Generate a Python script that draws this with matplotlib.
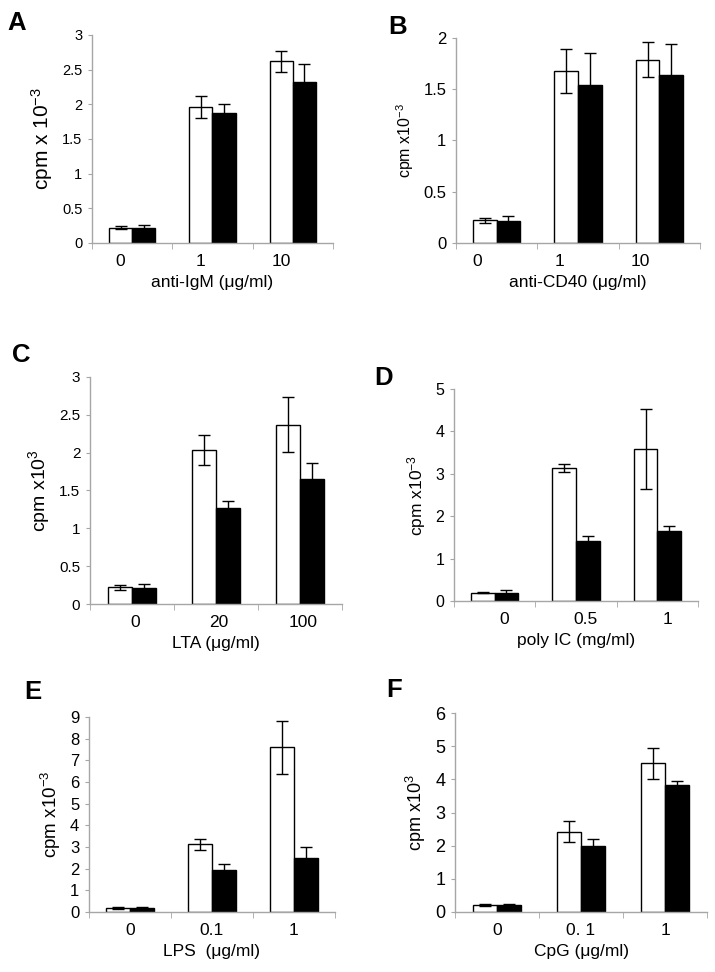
import matplotlib
matplotlib.use("Agg")
import matplotlib.pyplot as plt
import matplotlib.transforms as mtransforms
import numpy as np

plt.rcParams['font.family'] = ['Liberation Sans', 'DejaVu Sans']
plt.rcParams['mathtext.fontset'] = 'custom'
plt.rcParams['mathtext.rm'] = 'Liberation Sans'
plt.rcParams['mathtext.it'] = 'Liberation Sans:italic'
plt.rcParams['mathtext.default'] = 'regular'

# data (cpm x 10^-3), white = open bars, black = filled bars
a_labels = ["0", "1", "10"]
a_white = [0.22, 1.96, 2.62]
a_white_err = [0.02, 0.16, 0.15]
a_black = [0.22, 1.88, 2.32]
a_black_err = [0.04, 0.12, 0.26]

b_labels = ["0", "1", "10"]
b_white = [0.22, 1.68, 1.79]
b_white_err = [0.025, 0.215, 0.175]
b_black = [0.21, 1.54, 1.64]
b_black_err = [0.05, 0.31, 0.30]

c_labels = ["0", "20", "100"]
c_white = [0.22, 2.04, 2.37]
c_white_err = [0.03, 0.20, 0.36]
c_black = [0.21, 1.27, 1.65]
c_black_err = [0.05, 0.09, 0.22]

d_labels = ["0", "0.5", "1"]
d_white = [0.20, 3.14, 3.58]
d_white_err = [0.02, 0.09, 0.95]
d_black = [0.20, 1.42, 1.66]
d_black_err = [0.07, 0.12, 0.12]

e_labels = ["0", "0.1", "1"]
e_white = [0.20, 3.12, 7.60]
e_white_err = [0.05, 0.27, 1.23]
e_black = [0.20, 1.93, 2.48]
e_black_err = [0.05, 0.27, 0.52]

f_labels = ["0", "0. 1", "1"]
f_white = [0.22, 2.42, 4.48]
f_white_err = [0.03, 0.31, 0.47]
f_black = [0.22, 2.00, 3.84]
f_black_err = [0.03, 0.20, 0.10]

W, H = 715, 972
fig = plt.figure(figsize=(W / 100, H / 100), dpi=100)
fig.patch.set_facecolor("white")

gray = "#a6a6a6"
bw = 0.29


def panel(letter, box, labels, white, white_err, black, black_err, ymax, ystep,
          ylabel, xlabel, ylab_fs, ytick_fs, label_dx, letter_pos):
    left, top, right, bottom = box
    ax = fig.add_axes([left / W, 1 - bottom / H, (right - left) / W, (bottom - top) / H])
    x = np.arange(len(labels))
    ax.bar(x - bw / 2, white, bw, color="white", edgecolor="black", linewidth=1.0, zorder=2)
    ax.bar(x + bw / 2, black, bw, color="black", edgecolor="black", linewidth=1.0, zorder=2)
    ax.errorbar(x - bw / 2, white, yerr=white_err, fmt="none", ecolor="black",
                elinewidth=1.0, capsize=4.5, capthick=1.0, zorder=3)
    ax.errorbar(x + bw / 2, black, yerr=black_err, fmt="none", ecolor="black",
                elinewidth=1.0, capsize=4.5, capthick=1.0, zorder=3)
    ax.set_xlim(-0.5, len(labels) - 0.5)
    ax.set_ylim(0, ymax)
    yt = np.arange(0, ymax + ystep / 2, ystep)
    ax.set_yticks(yt)
    ax.set_yticklabels(["%g" % t for t in yt])
    ax.set_xticks(x)
    ax.set_xticklabels(labels, fontsize=12.5)
    ax.set_xticks(np.arange(len(labels) + 1) - 0.5, minor=True)
    ax.tick_params(axis="x", which="major", length=0, pad=8)
    ax.tick_params(axis="x", which="minor", length=4, color=gray, direction="out")
    ax.tick_params(axis="y", length=3, color=gray, labelsize=ytick_fs, pad=4)
    for s in ["top", "right"]:
        ax.spines[s].set_visible(False)
    for s in ["left", "bottom"]:
        ax.spines[s].set_color(gray)
        ax.spines[s].set_linewidth(1.0)
    off = mtransforms.ScaledTranslation(label_dx / 100, 0, fig.dpi_scale_trans)
    for t in ax.get_xticklabels():
        t.set_transform(t.get_transform() + off)
    ax.set_xlabel(xlabel, fontsize=12.5, labelpad=4)
    ax.set_ylabel(ylabel, fontsize=ylab_fs, labelpad=5)
    fig.text(letter_pos[0] / W, 1 - letter_pos[1] / H, letter, fontsize=18.5,
             fontweight="bold", ha="left", va="center")
    return ax


panel("A", (92, 35, 333, 243), a_labels, a_white, a_white_err, a_black, a_black_err,
      3, 0.5, "cpm x 10$^{-3}$", "anti-IgM (μg/ml)", 15, 10.5, -12, (7, 23))
panel("B", (456, 38, 700, 243), b_labels, b_white, b_white_err, b_black, b_black_err,
      2, 0.5, "cpm x10$^{-3}$", "anti-CD40 (μg/ml)", 11.5, 12, -19, (388, 27))
panel("C", (90, 377, 342, 604), c_labels, c_white, c_white_err, c_black, c_black_err,
      3, 0.5, "cpm x10$^{3}$", "LTA (μg/ml)", 14, 11, 3, (12, 355))
panel("D", (454, 389, 698, 601), d_labels, d_white, d_white_err, d_black, d_black_err,
      5, 1, "cpm x10$^{-3}$", "poly IC (mg/ml)", 12.5, 11.5, 10, (374, 378))
panel("E", (89, 717, 335, 912), e_labels, e_white, e_white_err, e_black, e_black_err,
      9, 1, "cpm x10$^{-3}$", "LPS  (μg/ml)", 13.5, 12, 0, (24, 692))
panel("F", (455, 713, 707, 912), f_labels, f_white, f_white_err, f_black, f_black_err,
      6, 1, "cpm x10$^{3}$", "CpG (μg/ml)", 13, 13, 0, (386, 690))

fig.savefig("out.png", dpi=100, facecolor="white")
